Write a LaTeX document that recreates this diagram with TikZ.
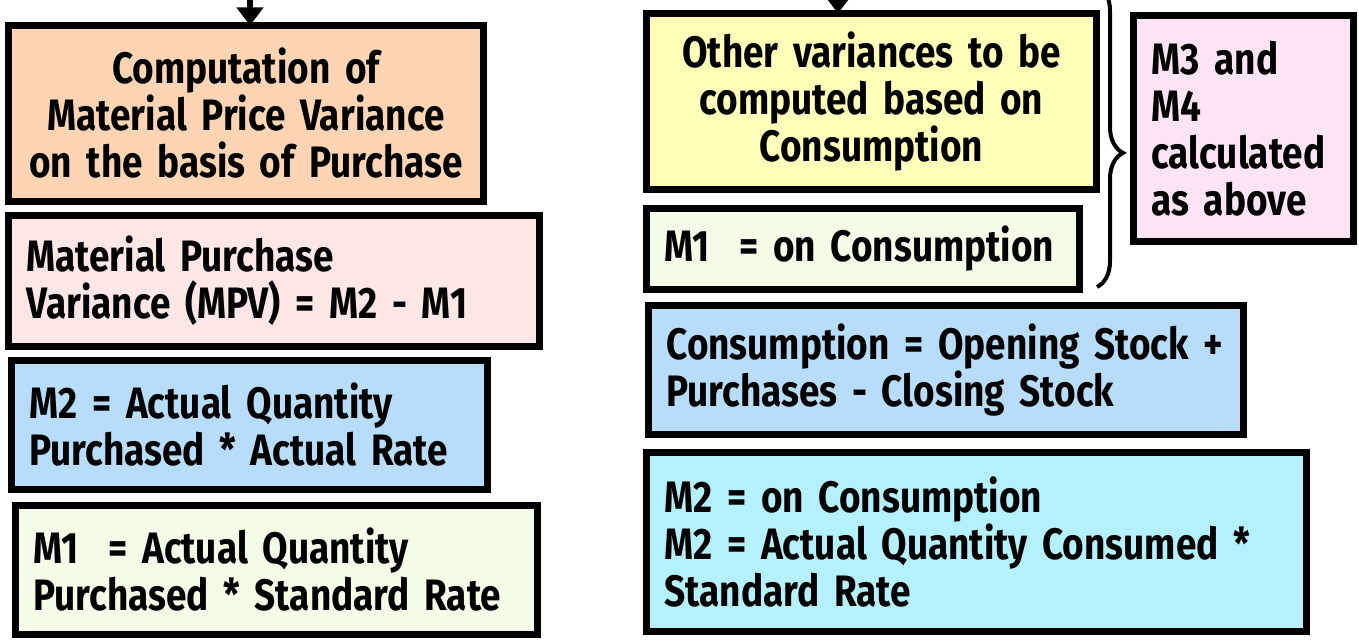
\documentclass[tikz,border=0pt]{standalone}
\usepackage{fontspec}
\setmainfont[FakeStretch=0.84, WordSpace=0.85]{Fira Sans}
\usepackage{tikz}
\usetikzlibrary{arrows.meta}
\usetikzlibrary{decorations.pathreplacing}
\definecolor{Peach}{RGB}{253,213,181}
\definecolor{Rose}{RGB}{253,230,230}
\definecolor{Sky}{RGB}{183,221,251}
\definecolor{Mint}{RGB}{244,252,232}
\definecolor{Lemon}{RGB}{255,255,185}
\definecolor{Aqua}{RGB}{181,241,253}
\definecolor{Lilac}{RGB}{252,228,244}
\newcommand{\boxfont}{\fontsize{22pt}{23.5pt}\selectfont\bfseries
  \hyphenpenalty=10000\relax\exhyphenpenalty=10000\relax}
\tikzset{
  varbox/.style={draw=black, line width=3.5pt, rectangle, anchor=north west,
    inner xsep=9pt, inner ysep=0pt, outer sep=0pt, font=\boxfont},
  flow/.style={line width=3pt, -{Triangle[width=13pt,length=9pt]}},
}
\begin{document}
\begin{tikzpicture}[x=0.5pt,y=-0.5pt]
        \useasboundingbox (0,0) rectangle (1359,641);
        \clip (0,0) rectangle (1359,641);

        % purchase side
        \node[varbox, fill=Peach, minimum width=237.5pt, minimum height=88pt, inner xsep=2pt, text width=233.5pt, align=center] (Comp) at (8.5,25.5) {Computation~of\\Material~Price~Variance\\on~the~basis~of~Purchase};
        \node[varbox, fill=Rose, minimum width=265.5pt, minimum height=65.5pt, text width=247.5pt, align=left] (MPV) at (8.5,215.5) {Material~Purchase\\Variance~(MPV)~=~M2~-~M1};
        \node[varbox, fill=Sky, minimum width=238pt, minimum height=64.5pt, text width=220pt, align=left] (M2p) at (11.5,360.5) {M2~=~Actual~Quantity\\Purchased~*~Actual~Rate};
        \node[varbox, fill=Mint, minimum width=261pt, minimum height=64.5pt, text width=243pt, align=left] (M1p) at (15.5,505.5) {M1~~=~Actual~Quantity\\Purchased~*~Standard~Rate};

        % consumption side
        \node[varbox, fill=Lemon, minimum width=225pt, minimum height=88pt, inner xsep=2pt, text width=221pt, align=center] (Other) at (646.5,13.5) {Other~variances~to~be\\computed~based~on\\Consumption};
        \node[varbox, fill=Mint, minimum width=216.5pt, minimum height=40.5pt, text width=198.5pt, align=left] (M1c) at (646.5,208.5) {M1~~=~on~Consumption};
        \node[varbox, fill=Sky, minimum width=297.5pt, minimum height=64.5pt, text width=279.5pt, align=left] (Cons) at (648.5,305.5) {Consumption~=~Opening~Stock~+\\Purchases~-~Closing~Stock};
        \node[varbox, fill=Aqua, minimum width=330pt, minimum height=89.5pt, text width=312pt, align=left] (M2c) at (646.5,452.5) {M2~=~on~Consumption\\M2~=~Actual~Quantity~Consumed~*\\Standard~Rate};
        \node[varbox, fill=Lilac, minimum width=110pt, minimum height=113pt, text width=92pt, align=left] (M34) at (1133.5,15.5) {M3~and\\M4\\calculated\\as~above};

        % edges
        \coordinate (inP) at (250,-40);
        \coordinate (inC) at (838,-40);
        \coordinate (brTop) at (1097,-15);
        \coordinate (brBot) at (1097,287);
        \draw[flow] (inP) -- (inP |- Comp.north);
        \draw[flow] (inC) -- (inC |- Other.north);
        \draw[line width=2pt, decorate, decoration={brace, amplitude=13pt, aspect=0.556}] (brTop) -- (brBot);
   \end{tikzpicture}
\end{document}
